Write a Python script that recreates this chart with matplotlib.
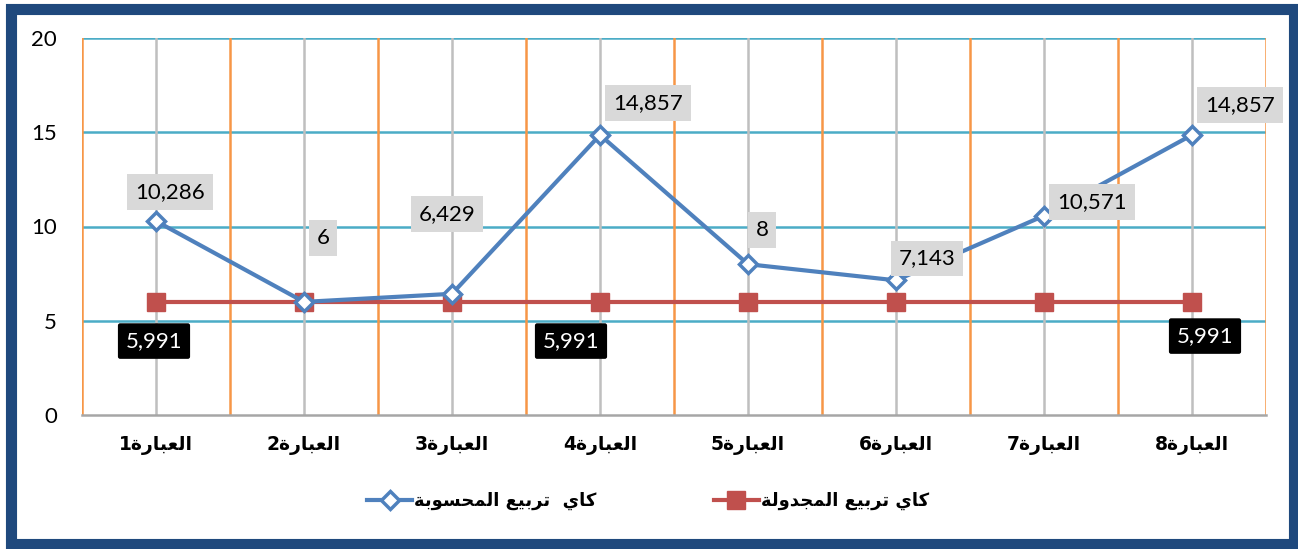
import matplotlib
matplotlib.use('Agg')
import matplotlib.pyplot as plt
from matplotlib.patches import Rectangle
from matplotlib.lines import Line2D
import numpy as np

# Data
categories = ['العبارة1', 'العبارة2', 'العبارة3', 'العبارة4',
              'العبارة5', 'العبارة6', 'العبارة7', 'العبارة8']
chi_calc = [10.286, 6, 6.429, 14.857, 8, 7.143, 10.571, 14.857]
chi_table = [5.991] * 8
table_labeled = [0, 3, 7]  # points of the tabulated series that carry a label
legend_names = ['كاي  تربيع المحسوبة', 'كاي تربيع المجدولة']

# Label offsets in pixels (layout only)
calc_offsets = [(14, 29), (19, 64), (-5, 80), (48, 32), (14, 34), (31, 22), (48, 14), (48, 30)]
table_offsets = {0: (-2, -39), 3: (-29, -39), 7: (13, -34)}

# Minimal Arabic shaping (presentation forms) for display without a bidi engine
FORMS = {  # isolated, final, initial, medial
    'ا': ('\uFE8D', '\uFE8E', None, None),
    'ب': ('\uFE8F', '\uFE90', '\uFE91', '\uFE92'),
    'ة': ('\uFE93', '\uFE94', None, None),
    'ت': ('\uFE95', '\uFE96', '\uFE97', '\uFE98'),
    'ج': ('\uFE9D', '\uFE9E', '\uFE9F', '\uFEA0'),
    'ح': ('\uFEA1', '\uFEA2', '\uFEA3', '\uFEA4'),
    'د': ('\uFEA9', '\uFEAA', None, None),
    'ر': ('\uFEAD', '\uFEAE', None, None),
    'س': ('\uFEB1', '\uFEB2', '\uFEB3', '\uFEB4'),
    'ع': ('\uFEC9', '\uFECA', '\uFECB', '\uFECC'),
    'ك': ('\uFED9', '\uFEDA', '\uFEDB', '\uFEDC'),
    'ل': ('\uFEDD', '\uFEDE', '\uFEDF', '\uFEE0'),
    'م': ('\uFEE1', '\uFEE2', '\uFEE3', '\uFEE4'),
    'و': ('\uFEED', '\uFEEE', None, None),
    'ي': ('\uFEF1', '\uFEF2', '\uFEF3', '\uFEF4'),
}


def shape_word(word):
    out = []
    for i, ch in enumerate(word):
        if ch not in FORMS:
            out.append(ch)
            continue
        prev = word[i - 1] if i > 0 else None
        nxt = word[i + 1] if i + 1 < len(word) else None
        join_prev = prev in FORMS and FORMS[prev][2] is not None
        join_next = nxt in FORMS and FORMS[ch][2] is not None
        iso, fin, ini, med = FORMS[ch]
        if join_prev and join_next:
            out.append(med)
        elif join_prev:
            out.append(fin)
        elif join_next:
            out.append(ini)
        else:
            out.append(iso)
    return out


def rtl(text):
    # shape arabic letters, reverse arabic runs, put trailing digits on the left
    digits = ''
    while text and text[-1].isdigit():
        digits = text[-1] + digits
        text = text[:-1]
    return digits + ''.join(reversed(shape_word(text)))


def fmt(v):
    return f'{v:g}'.replace('.', ',')


blue = '#4F81BD'
red = '#C0504D'
num_font = 'Lato'
ar_font = ['DejaVu Sans']

fig = plt.figure(figsize=(12.98, 5.49), dpi=100)
ax = fig.add_axes([82 / 1298, 134 / 549, (1266 - 82) / 1298, (511 - 134) / 549])

x = np.arange(1, len(categories) + 1)

# Grid
for y in [5, 10, 15, 20]:
    ax.axhline(y, color='#4BACC6', lw=1.8, zorder=1)
for xi in x:
    ax.axvline(xi, color='#BFBFBF', lw=1.8, zorder=1)
for xb in np.arange(0.5, len(categories) + 1, 1):
    ax.axvline(xb, color='#F79646', lw=1.8, zorder=1)

ax.plot(x, chi_calc, color=blue, lw=3, marker='D', markersize=9,
        markerfacecolor='white', markeredgecolor=blue, markeredgewidth=2.5, zorder=4)
ax.plot(x, chi_table, color=red, lw=3, marker='s', markersize=13,
        markerfacecolor=red, markeredgecolor=red, zorder=3)

for xi, v, off in zip(x, chi_calc, calc_offsets):
    ax.annotate(fmt(v), (xi, v), xytext=off, textcoords='offset pixels',
                ha='center', va='center', fontsize=16, family=num_font, zorder=5,
                bbox=dict(boxstyle='square,pad=0.35', fc='#D9D9D9', ec='none'))
for i in table_labeled:
    ax.annotate(fmt(chi_table[i]), (x[i], chi_table[i]), xytext=table_offsets[i],
                textcoords='offset pixels', ha='center', va='center', fontsize=16,
                family=num_font, color='white', zorder=5,
                bbox=dict(boxstyle='round,pad=0.35,rounding_size=0.1', fc='black', ec='none'))

ax.set_xlim(0.5, len(categories) + 0.5)
ax.set_ylim(0, 20)
ax.set_yticks([0, 5, 10, 15, 20])
ax.set_yticklabels(['0', '5', '10', '15', '20'], fontsize=16, family=num_font)
ax.set_xticks(x)
ax.set_xticklabels([rtl(c) for c in categories], fontsize=13.5, fontweight='bold', family=ar_font)
ax.tick_params(axis='y', length=0, pad=18)
ax.tick_params(axis='x', length=0, pad=15)
for side in ['top', 'right', 'left']:
    ax.spines[side].set_visible(False)
ax.spines['bottom'].set_color('#A6A6A6')
ax.spines['bottom'].set_linewidth(1.8)

handles = [
    Line2D([], [], color=blue, lw=3, marker='D', markersize=9, markerfacecolor='white',
           markeredgecolor=blue, markeredgewidth=2.5),
    Line2D([], [], color=red, lw=3, marker='s', markersize=13, markerfacecolor=red,
           markeredgecolor=red),
]
fig.legend(handles, [rtl(n) for n in legend_names], loc='center', ncol=2,
           bbox_to_anchor=(648 / 1298, 48 / 549), frameon=False, handlelength=2.5,
           handletextpad=0.1, columnspacing=6.5,
           prop=dict(family=ar_font, weight='bold', size=13))

# Outer frame
fig.patches.append(Rectangle((10.5 / 1298, 5 / 549), (1294 - 10.5) / 1298, (540.5 - 5) / 549,
                             transform=fig.transFigure, fill=False, edgecolor='#1F497D',
                             linewidth=8, zorder=10))

fig.savefig('out.png', dpi=100)
